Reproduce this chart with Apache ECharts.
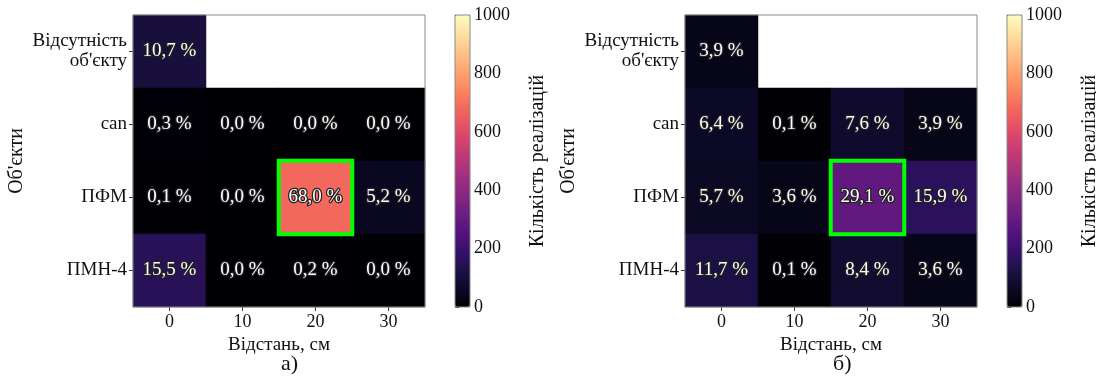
<!DOCTYPE html>
<html>
<head>
<meta charset="utf-8">
<script src="https://cdn.jsdelivr.net/npm/echarts@6/dist/echarts.min.js"></script>
<style>
html,body{margin:0;padding:0;background:#fff;}
#c{width:1096px;height:376px;}
</style>
</head>
<body>
<div id="c"></div>
<script>
// ---- data ----
const distances = ['0', '10', '20', '30'];
const objects = ['Відсутність\nоб\'єкту', 'can', 'ПФМ', 'ПМН-4'];
const colorbarTicks = [0, 200, 400, 600, 800, 1000];
const totalRealizations = 1000;

// chart а) percentages (row per object, column per distance; null = no cell)
const absenceA = [10.7, null, null, null];
const canA = [0.3, 0.0, 0.0, 0.0];
const pfmA = [0.1, 0.0, 68.0, 5.2];
const pmnA = [15.5, 0.0, 0.2, 0.0];

// chart б) percentages
const absenceB = [3.9, null, null, null];
const canB = [6.4, 0.1, 7.6, 3.9];
const pfmB = [5.7, 3.6, 29.1, 15.9];
const pmnB = [11.7, 0.1, 8.4, 3.6];

// highlighted cell (distance, object)
const highlight = ['20', 'ПФМ'];

const magma = ['#000004','#0c0926','#1d1147','#36106b','#51127c','#6a1c81','#832681','#9c2e7f',
  '#b73779','#d0416f','#e75263','#f56b5c','#fc8961','#fea772','#fec488','#fde2a3','#fcfdbf'];

function toData(rows) {
  const out = [];
  rows.forEach((row, yi) => {
    row.forEach((v, xi) => {
      if (v !== null) out.push([xi, yi, v]);
    });
  });
  return out;
}
const dataA = toData([absenceA, canA, pfmA, pmnA]);
const dataB = toData([absenceB, canB, pfmB, pmnB]);
const hiX = distances.indexOf(highlight[0]);
const hiY = objects.indexOf(highlight[1]);

const FONT = 'Liberation Serif';
const GRAY = '#8a8a8a';
const panels = [
  {left: 133, cbLeft: 455, data: dataA, caption: 'а)', capX: 292},
  {left: 685, cbLeft: 1007, data: dataB, caption: 'б)', capX: 844}
];
const TOP = 15, H = 292, W = 292, CBW = 15;

const grid = [], xAxis = [], yAxis = [], series = [], visualMap = [], graphic = [];
panels.forEach((p, i) => {
  // heatmap grid
  grid.push({left: p.left, top: TOP, width: W, height: H, show: true, borderColor: GRAY, borderWidth: 1,
    backgroundColor: 'transparent', z: 10, containLabel: false, outerBoundsMode: 'none'});
  // colorbar grid
  grid.push({left: p.cbLeft, top: TOP, width: CBW, height: H, show: true, borderColor: GRAY, borderWidth: 1,
    backgroundColor: 'transparent', z: 10, containLabel: false, outerBoundsMode: 'none'});
  const gH = 2 * i, gC = 2 * i + 1;
  xAxis.push({
    gridIndex: gH, type: 'category', data: distances, position: 'bottom',
    axisLine: {show: false},
    axisTick: {show: true, alignWithLabel: true, length: 4, lineStyle: {color: '#333'}},
    axisLabel: {fontFamily: FONT, fontSize: 18, color: '#111', margin: 6},
    splitLine: {show: false}, splitArea: {show: false},
    name: 'Відстань, см', nameLocation: 'middle', nameGap: 24,
    nameTextStyle: {fontFamily: FONT, fontSize: 19, color: '#111', verticalAlign: 'top'}
  });
  xAxis.push({gridIndex: gC, type: 'value', show: false, min: 0, max: 1});
  yAxis.push({
    gridIndex: gH, type: 'category', data: objects, inverse: true,
    axisLine: {show: false},
    axisTick: {show: true, alignWithLabel: true, length: 4, lineStyle: {color: '#333'}},
    axisLabel: {fontFamily: FONT, fontSize: 19, color: '#111', margin: 6, lineHeight: 20, align: 'right'},
    splitLine: {show: false}, splitArea: {show: false},
    name: 'Об\'єкти', nameLocation: 'middle', nameGap: 106, nameRotate: 90,
    nameTextStyle: {fontFamily: FONT, fontSize: 20, color: '#111'}
  });
  yAxis.push({
    gridIndex: gC, type: 'value', position: 'right', min: colorbarTicks[0], max: colorbarTicks[colorbarTicks.length - 1],
    interval: colorbarTicks[1] - colorbarTicks[0],
    axisLine: {show: false},
    axisTick: {show: true, length: 4, lineStyle: {color: '#333'}},
    axisLabel: {fontFamily: FONT, fontSize: 18, color: '#111', margin: 4, formatter: (v) => String(v)},
    splitLine: {show: false},
    name: 'Кількість реалізацій', nameLocation: 'middle', nameGap: 58, nameRotate: 90,
    nameTextStyle: {fontFamily: FONT, fontSize: 20, color: '#111'}
  });
  series.push({
    type: 'heatmap', xAxisIndex: gH, yAxisIndex: gH, data: p.data,
    label: {
      show: true, fontFamily: FONT, fontSize: 19, color: '#fff',
      textBorderColor: '#222', textBorderWidth: 2.5,
      formatter: (prm) => prm.value[2].toFixed(1).replace('.', ',') + ' %'
    },
    itemStyle: {borderWidth: 0},
    emphasis: {disabled: true}
  });
  const hv = p.data.find(d => d[0] === hiX && d[1] === hiY);
  series.push({
    type: 'heatmap', xAxisIndex: gH, yAxisIndex: gH, data: [hv],
    label: {show: false},
    itemStyle: {color: 'rgba(0,0,0,0)', borderColor: '#00ff00', borderWidth: 4},
    emphasis: {disabled: true}, z: 5
  });
  visualMap.push({
    type: 'continuous', seriesIndex: 2 * i, min: 0, max: totalRealizations / 10,
    inRange: {color: magma}, calculable: false, orient: 'vertical',
    left: p.cbLeft, top: TOP, itemWidth: CBW, itemHeight: H, padding: 0,
    text: null, showLabel: false, hoverLink: false
  });
  graphic.push({type: 'text', left: p.capX - 11, top: 353,
    style: {text: p.caption, fontFamily: FONT, fontSize: 22, fill: '#111'}});
});

const chart = echarts.init(document.getElementById('c'), null, {renderer: 'canvas'});
chart.setOption({
  animation: false,
  backgroundColor: '#fff',
  grid, xAxis, yAxis, series, visualMap, graphic
});
</script>
</body>
</html>
